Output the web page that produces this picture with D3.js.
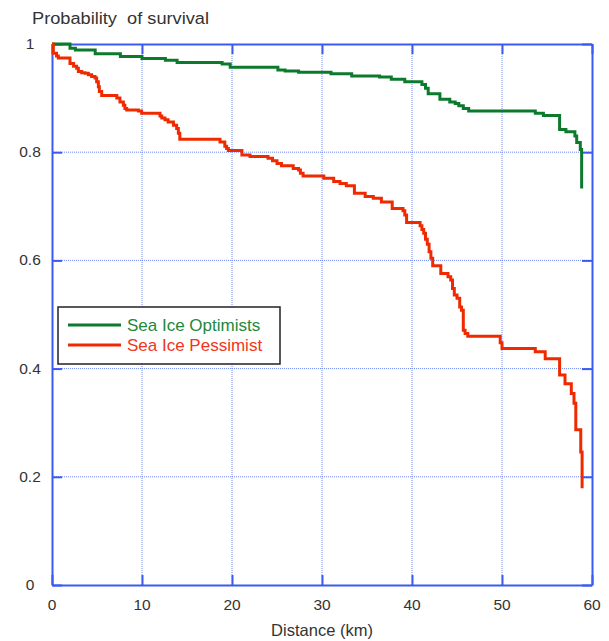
<!DOCTYPE html>
<html>
<head>
<meta charset="utf-8">
<script src="https://cdn.jsdelivr.net/npm/d3@7"></script>
<style>
  html, body { margin: 0; padding: 0; background: #fff; }
  text { font-family: "Liberation Sans", Arial, sans-serif; }
</style>
</head>
<body>
<svg id="chart" width="609" height="641"></svg>
<script>
// ---- data ----
const xTicks = [0, 10, 20, 30, 40, 50, 60];
const yTicks = [0, 0.2, 0.4, 0.6, 0.8, 1];
const yTickLabels = ["0", "0.2", "0.4", "0.6", "0.8", "1"];
const seriesNames = ["Sea Ice Optimists", "Sea Ice Pessimist"];

const optimistDist = [0, 2.0, 2.6, 4.8, 7.6, 10.0, 12.6, 13.9, 18.9, 19.8, 25.1, 25.9, 27.4, 31.0, 33.3, 36.4, 37.7, 39.2, 41.1, 41.5, 41.8, 43.1, 44.2, 44.8, 45.2, 45.7, 46.3, 53.7, 54.6, 56.4, 57.1, 58.1, 58.3, 58.7, 58.85];
const optimistSurv = [1.0, 0.992, 0.989, 0.982, 0.977, 0.973, 0.970, 0.966, 0.963, 0.957, 0.952, 0.950, 0.948, 0.945, 0.941, 0.939, 0.935, 0.930, 0.925, 0.918, 0.908, 0.898, 0.893, 0.890, 0.886, 0.881, 0.876, 0.872, 0.868, 0.842, 0.838, 0.830, 0.818, 0.805, 0.733];

const pessimistDist = [0, 0.15, 0.5, 0.7, 2.0, 2.4, 2.74, 2.93, 3.3, 3.67, 4.04, 4.4, 4.78, 4.96, 5.15, 5.26, 5.52, 7.2, 7.55, 7.93, 8.1, 8.3, 9.6, 9.96, 12.0, 12.2, 12.55, 12.9, 13.5, 13.85, 14.04, 14.2, 18.67, 19.2, 19.4, 19.6, 21.1, 22.0, 24.0, 24.5, 25.0, 25.5, 26.8, 27.4, 27.6, 27.9, 30.2, 31.3, 32.0, 32.7, 33.6, 34.8, 35.7, 36.6, 37.8, 39.0, 39.2, 39.4, 40.9, 41.1, 41.3, 41.5, 41.7, 41.9, 42.1, 42.3, 43.2, 44.0, 44.3, 44.5, 44.7, 45.0, 45.3, 45.5, 45.7, 45.9, 46.2, 49.8, 50.0, 53.7, 54.8, 56.4, 57.0, 57.7, 58.0, 58.2, 58.75, 58.9];
const pessimistSurv = [1.0, 0.983, 0.978, 0.974, 0.964, 0.959, 0.955, 0.949, 0.947, 0.946, 0.943, 0.940, 0.937, 0.930, 0.921, 0.912, 0.905, 0.900, 0.893, 0.887, 0.881, 0.878, 0.876, 0.872, 0.867, 0.863, 0.860, 0.856, 0.850, 0.844, 0.835, 0.824, 0.819, 0.811, 0.807, 0.803, 0.795, 0.792, 0.789, 0.784, 0.779, 0.775, 0.770, 0.767, 0.761, 0.756, 0.752, 0.746, 0.742, 0.738, 0.724, 0.718, 0.715, 0.708, 0.696, 0.692, 0.684, 0.670, 0.664, 0.657, 0.650, 0.639, 0.630, 0.616, 0.604, 0.590, 0.576, 0.570, 0.564, 0.548, 0.536, 0.530, 0.514, 0.508, 0.471, 0.465, 0.460, 0.448, 0.437, 0.431, 0.418, 0.388, 0.372, 0.354, 0.336, 0.287, 0.246, 0.179];

// ---- layout ----
const svg = d3.select("#chart");
const pL = 52, pR = 592, pT = 44, pB = 585;
const x = d3.scaleLinear().domain([0, 60]).range([pL, pR]);
const y = d3.scaleLinear().domain([0, 1]).range([pB, pT]);

const axisColor = "#3a5af2";
const gridColor = "#6f86f5";
const textColor = "#333";
const greenLine = "#0c7a2c";
const redLine = "#ef2a00";

// grid
const grid = svg.append("g");
grid.selectAll("line.gx").data(xTicks.slice(1, -1)).join("line")
  .attr("x1", d => x(d)).attr("x2", d => x(d))
  .attr("y1", pT).attr("y2", pB)
  .attr("stroke", gridColor).attr("stroke-width", 1).attr("stroke-dasharray", "1,1");
grid.selectAll("line.gy").data(yTicks.slice(1, -1)).join("line")
  .attr("x1", pL).attr("x2", pR)
  .attr("y1", d => y(d)).attr("y2", d => y(d))
  .attr("stroke", gridColor).attr("stroke-width", 1).attr("stroke-dasharray", "1,1");

// axes via d3 axis (inward ticks, labels drawn separately)
const tickLen = 10;
const axB = svg.append("g").attr("transform", `translate(0,${pB})`)
  .call(d3.axisBottom(x).tickValues(xTicks).tickSizeInner(-tickLen).tickSizeOuter(0).tickFormat(""));
const axT = svg.append("g").attr("transform", `translate(0,${pT})`)
  .call(d3.axisTop(x).tickValues(xTicks).tickSizeInner(-tickLen).tickSizeOuter(0).tickFormat(""));
const axL = svg.append("g").attr("transform", `translate(${pL},0)`)
  .call(d3.axisLeft(y).tickValues(yTicks).tickSizeInner(-tickLen).tickSizeOuter(0).tickFormat(""));
const axR = svg.append("g").attr("transform", `translate(${pR},0)`)
  .call(d3.axisRight(y).tickValues(yTicks).tickSizeInner(-tickLen).tickSizeOuter(0).tickFormat(""));

[axB, axT, axL, axR].forEach(a => {
  a.select(".domain").attr("stroke", axisColor).attr("stroke-width", 2);
  a.selectAll(".tick line").attr("stroke", axisColor).attr("stroke-width", 2);
});

// tick labels
svg.append("g").selectAll("text").data(xTicks).join("text")
  .attr("x", d => x(d)).attr("y", 610).attr("text-anchor", "middle")
  .attr("fill", textColor).attr("font-size", 15.5).text(d => d);
svg.append("g").selectAll("text").data(yTicks).join("text")
  .attr("x", 30).attr("y", d => y(d) + 5).attr("text-anchor", "middle")
  .attr("fill", textColor).attr("font-size", 15.5).text((d, i) => yTickLabels[i]);

// series
const lineGen = d3.line().x(d => x(d[0])).y(d => y(d[1])).curve(d3.curveStepAfter);
const series = [
  { name: seriesNames[0], data: d3.zip(optimistDist, optimistSurv), color: greenLine, text: "#22883a" },
  { name: seriesNames[1], data: d3.zip(pessimistDist, pessimistSurv), color: redLine, text: "#f03520" }
];
svg.append("g").selectAll("path").data(series).join("path")
  .attr("d", d => lineGen(d.data))
  .attr("fill", "none").attr("stroke", d => d.color).attr("stroke-width", 3)
  .attr("stroke-linejoin", "miter");

// legend
const lg = svg.append("g");
lg.append("rect").attr("x", 58).attr("y", 307).attr("width", 222).attr("height", 57)
  .attr("fill", "#fff").attr("stroke", "#222").attr("stroke-width", 1.5);
series.forEach((s, i) => {
  const ly = 325 + i * 20;
  lg.append("line").attr("x1", 68).attr("x2", 121).attr("y1", ly).attr("y2", ly)
    .attr("stroke", s.color).attr("stroke-width", 3);
  lg.append("text").attr("x", 127).attr("y", ly + 6).attr("fill", s.text)
    .attr("font-size", 17).text(s.name);
});

// titles
svg.append("text").attr("x", 32).attr("y", 24).attr("fill", textColor)
  .attr("font-size", 16).attr("textLength", 177).attr("lengthAdjust", "spacingAndGlyphs")
  .style("white-space", "pre").text("Probability  of survival");
svg.append("text").attr("x", (pL + pR) / 2).attr("y", 636).attr("text-anchor", "middle")
  .attr("fill", textColor).attr("font-size", 16.5).text("Distance (km)");
</script>
</body>
</html>
